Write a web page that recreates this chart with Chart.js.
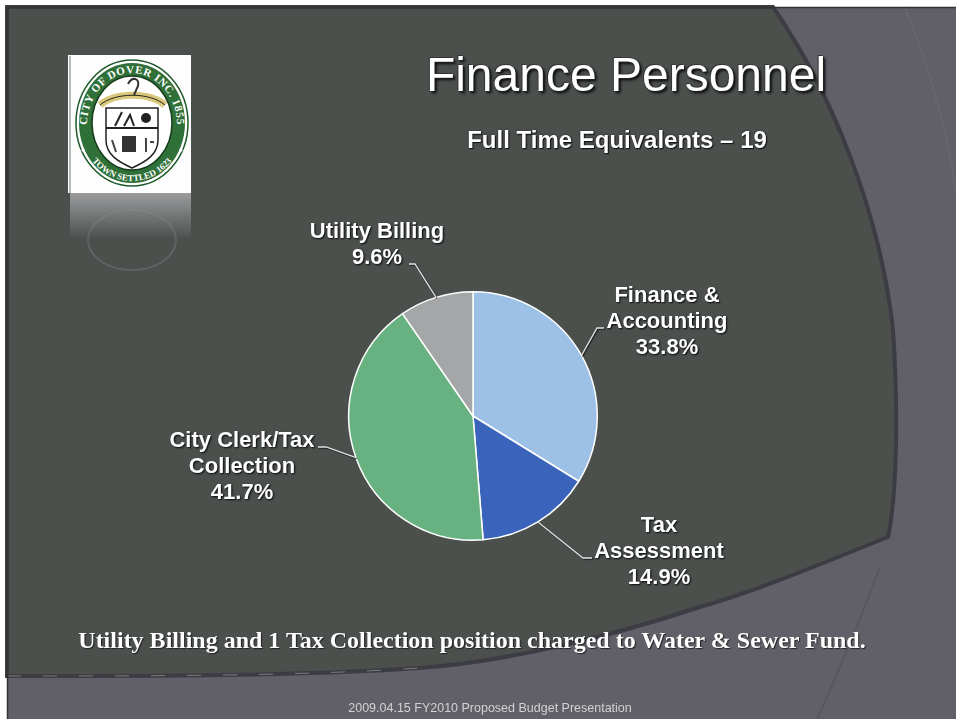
<!DOCTYPE html>
<html lang="en">
<head>
<meta charset="UTF-8">
<title>Finance Personnel</title>
<script src="https://cdn.jsdelivr.net/npm/chart.js"></script>
<style>
    html, body { margin: 0; padding: 0; }
    body { width: 956px; height: 719px; position: relative; overflow: hidden; background: #fff; }
    #bg { position: absolute; left: 0; top: 0; }
    #chartBox { position: absolute; left: 0; top: 0; width: 956px; height: 719px; }
    .txt { position: absolute; color: #fff; white-space: nowrap; transform: translateX(-50%); }
    #title { left: 626px; top: 51px; font: 48px/48px "Liberation Sans", Arial, sans-serif;
             text-shadow: 1px 1px 0 #222, -1px -1px 0 #333, 2px 2px 3px #000; }
    #subtitle { left: 617px; top: 128px; font: bold 24px/24px "Liberation Sans", Arial, sans-serif;
                text-shadow: 1px 1px 1px #111, 0 0 2px #222; }
    #note { left: 472px; top: 628px; font: bold 24px/24px "Liberation Serif", "Times New Roman", serif;
            text-shadow: 1px 1px 1px #222; }
    #footer { left: 490px; top: 702px; font: 12.5px/12.5px "Liberation Sans", Arial, sans-serif; color: #d2d2d2; }
</style>
</head>
<body>
<svg id="bg" width="956" height="719" xmlns="http://www.w3.org/2000/svg">
    <defs>
        <linearGradient id="refl" x1="0" y1="0" x2="0" y2="1">
            <stop offset="0" stop-color="#9b9b9e"/>
            <stop offset="1" stop-color="#4d524f"/>
        </linearGradient>
        <path id="topArc" d="M 92.2,149.5 A 45,52 0 1 1 171.8,149.5"/>
        <path id="botArc" d="M 86,152 A 54,61 0 0 0 178,152"/>
    </defs>
    <!-- slide background -->
    <rect x="7" y="7" width="949" height="712" fill="#615f67"/>
    <path d="M7,7 H773 C830,90 880,210 893,330 C899,420 896,500 888,537 C830,560 760,590 700,607 C600,640 500,662 420,668 C300,676 150,676 7,676 Z"
          fill="#4b504d" stroke="#3d3b43" stroke-width="4"/>
    <path d="M7,676 C150,676 300,676 420,668" fill="none" stroke="#b9b9b9" stroke-width="1" stroke-dasharray="14 22" opacity="0.5"/>
    <path d="M880,567 C860,620 835,680 817,719" fill="none" stroke="#55535b" stroke-width="2" opacity="0.7"/>
    <path d="M905,7 C935,80 950,150 956,190" fill="none" stroke="#6b6971" stroke-width="2" opacity="0.7"/>
    <rect x="7.5" y="7.5" width="950" height="713" fill="none" stroke="#333" stroke-width="1.5"/>

    <!-- logo -->
    <rect x="70" y="193" width="121" height="45" fill="url(#refl)"/>
    <ellipse cx="132" cy="240" rx="44" ry="30" fill="none" stroke="#8f8f92" stroke-width="2" opacity="0.3"/>
    <rect x="68" y="55" width="123" height="138" fill="#fdfdfd"/>
    <line x1="70" y1="56" x2="70" y2="193" stroke="#b8b8b8" stroke-width="2"/>
    <ellipse cx="132" cy="123" rx="56" ry="63" fill="#fff" stroke="#1f5a2a" stroke-width="1.5"/>
    <ellipse cx="132" cy="123" rx="53" ry="60" fill="#2f6f38"/>
    <ellipse cx="132" cy="123" rx="40" ry="47" fill="#fff" stroke="#173d1d" stroke-width="1.5"/>
    <text font-family="Liberation Serif, serif" font-weight="bold" font-size="11" fill="#fff" letter-spacing="0.6">
        <textPath href="#topArc" startOffset="50%" text-anchor="middle">CITY OF DOVER INC. 1855</textPath>
    </text>
    <text font-family="Liberation Serif, serif" font-weight="bold" font-size="9" fill="#fff">
        <textPath href="#botArc" startOffset="50%" text-anchor="middle">TOWN SETTLED 1623</textPath>
    </text>
    <circle cx="83" cy="150" r="1.6" fill="#fff"/>
    <circle cx="181" cy="150" r="1.6" fill="#fff"/>
    <!-- emblem -->
    <path d="M100,105 C115,92 150,92 165,105" fill="none" stroke="#d9c77a" stroke-width="7"/>
    <path d="M100,105 C115,92 150,92 165,105" fill="none" stroke="#222" stroke-width="1"/>
    <path d="M106,108 L158,108 L158,140 C158,155 145,162 132,168 C119,162 106,155 106,140 Z" fill="#fff" stroke="#222" stroke-width="1.5"/>
    <line x1="106" y1="128" x2="158" y2="128" stroke="#222" stroke-width="2"/>
    <path d="M128,84 C132,76 140,78 138,86 L134,95" fill="none" stroke="#333" stroke-width="2"/>
    <path d="M115,126 L122,112 M124,126 L130,115 L134,126" fill="none" stroke="#222" stroke-width="2"/>
    <circle cx="146" cy="118" r="5" fill="#222"/>
    <rect x="122" y="136" width="14" height="16" fill="#333"/>
    <path d="M112,140 L116,152 M146,138 L146,152 M150,142 L154,142" stroke="#444" stroke-width="2"/>
</svg>

<div id="chartBox"><canvas id="pieChart"></canvas></div>

<div id="title" class="txt">Finance Personnel</div>
<div id="subtitle" class="txt">Full Time Equivalents – 19</div>
<div id="note" class="txt">Utility Billing and 1 Tax Collection position charged to Water &amp; Sewer Fund.</div>
<div id="footer" class="txt">2009.04.15 FY2010 Proposed Budget Presentation</div>

<script>
    // data
    const categories = ['Finance & Accounting', 'Tax Assessment', 'City Clerk/Tax Collection', 'Utility Billing'];
    const sharePct = [33.8, 14.9, 41.7, 9.6];
    const labelLines = [['Finance &', 'Accounting'], ['Tax', 'Assessment'], ['City Clerk/Tax', 'Collection'], ['Utility Billing']];

    const sliceColors = ['#9cc0e6', '#3a64bb', '#68b281', '#a4a6a8'];

    // where each label sits (text centre, first baseline) and the leader elbow
    const labelLayout = [
        { x: 667, y: 302, elbow: [597, 328], tick: 604 },
        { x: 659, y: 532, elbow: [583, 558], tick: 592 },
        { x: 242, y: 447, elbow: [326, 447], tick: 318 },
        { x: 377, y: 238, elbow: [415, 264], tick: 409 }
    ];
    const lineGap = 26;

    const pieLabels = {
        id: 'pieLabels',
        afterDatasetsDraw(chart) {
            const ctx = chart.ctx;
            const arcs = chart.getDatasetMeta(0).data;
            ctx.save();
            arcs.forEach((arc, i) => {
                const p = arc.getProps(['x', 'y', 'startAngle', 'endAngle', 'outerRadius'], true);
                const mid = (p.startAngle + p.endAngle) / 2;
                const sx = p.x + Math.cos(mid) * p.outerRadius;
                const sy = p.y + Math.sin(mid) * p.outerRadius;
                const lay = labelLayout[i];

                // leader line
                ctx.shadowColor = 'rgba(0,0,0,0.7)';
                ctx.shadowOffsetX = 1;
                ctx.shadowOffsetY = 1;
                ctx.shadowBlur = 1;
                ctx.strokeStyle = '#e2e2e2';
                ctx.lineWidth = 1.3;
                ctx.beginPath();
                ctx.moveTo(sx, sy);
                ctx.lineTo(lay.elbow[0], lay.elbow[1]);
                ctx.lineTo(lay.tick, lay.elbow[1]);
                ctx.stroke();

                // text
                ctx.font = 'bold 22px "Liberation Sans", Arial, sans-serif';
                ctx.fillStyle = '#ffffff';
                ctx.textAlign = 'center';
                ctx.textBaseline = 'alphabetic';
                ctx.shadowColor = 'rgba(0,0,0,0.9)';
                ctx.shadowBlur = 2;
                const lines = labelLines[i].concat([sharePct[i].toFixed(1) + '%']);
                lines.forEach((t, k) => ctx.fillText(t, lay.x, lay.y + k * lineGap));
            });
            ctx.restore();
        }
    };

    const chart = new Chart(document.getElementById('pieChart'), {
        type: 'pie',
        data: {
            labels: categories,
            datasets: [{
                data: sharePct,
                backgroundColor: sliceColors,
                borderColor: '#ffffff',
                borderWidth: 1.5
            }]
        },
        options: {
            responsive: true,
            maintainAspectRatio: false,
            animation: false,
            events: [],
            layout: { padding: { left: 0, right: 10, top: 291, bottom: 178 } },
            plugins: {
                legend: { display: false },
                tooltip: { enabled: false }
            }
        },
        plugins: [pieLabels]
    });
</script>
</body>
</html>
